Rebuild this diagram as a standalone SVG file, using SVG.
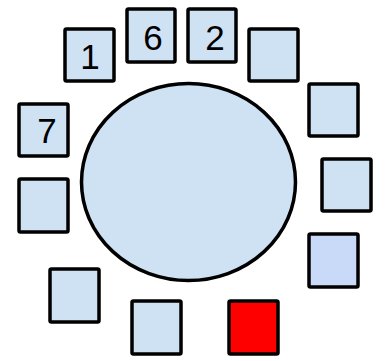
<svg xmlns="http://www.w3.org/2000/svg" width="389" height="361" viewBox="0 0 389 361">
<style>
.b{fill:#cfe2f3;stroke:#000;stroke-width:3.5;stroke-linejoin:round}
.t{font-family:"Liberation Sans",Arial,sans-serif;font-size:35px;fill:#000;text-anchor:middle}
</style>
<rect width="389" height="361" fill="#fff"/>
<g id="table"><ellipse cx="188.5" cy="182" rx="107" ry="98.5" fill="#cfe2f3" stroke="#000" stroke-width="3.5"/></g>
<g id="seat1"><rect class="b" x="65" y="29" width="49" height="52" rx="1.5"/><text class="t" x="90" y="69">1</text></g>
<g id="seat6"><rect class="b" x="127" y="9" width="48" height="53" rx="1.5"/><text class="t" x="153" y="50">6</text></g>
<g id="seat2"><rect class="b" x="188" y="9" width="48" height="53" rx="1.5"/><text class="t" x="215" y="50">2</text></g>
<g id="seat_tr"><rect class="b" x="249" y="29" width="49" height="52" rx="1.5"/></g>
<g id="seat_r1"><rect class="b" x="309" y="84" width="49" height="52" rx="1.5"/></g>
<g id="seat_r2"><rect class="b" x="322" y="159" width="49" height="52" rx="1.5"/></g>
<g id="seat_r3"><rect class="b" x="309" y="234" width="49" height="53" rx="1.5" style="fill:#c9daf8"/></g>
<g id="seat_red"><rect class="b" x="229" y="301" width="49" height="53" rx="1.5" style="fill:#ff0000"/></g>
<g id="seat_b"><rect class="b" x="132" y="301" width="49" height="53" rx="1.5"/></g>
<g id="seat_bl"><rect class="b" x="50" y="269" width="49" height="53" rx="1.5"/></g>
<g id="seat_l"><rect class="b" x="19" y="179" width="49" height="53" rx="1.5"/></g>
<g id="seat7"><rect class="b" x="19" y="104" width="49" height="52" rx="1.5"/><text class="t" x="47" y="143">7</text></g>
<g id="connectors"/>
</svg>
